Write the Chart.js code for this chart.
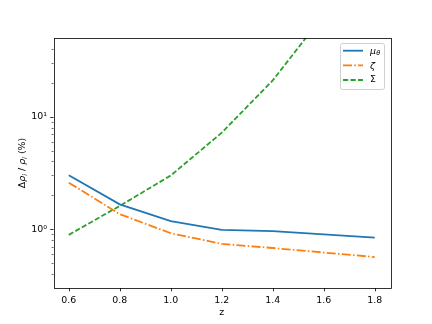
<!DOCTYPE html>
<html>
<head>
<meta charset="utf-8">
<script src="https://cdn.jsdelivr.net/npm/chart.js@4"></script>
<style>
  html, body { margin: 0; padding: 0; background: #fff; }
  #wrap { width: 432px; height: 324px; }
</style>
</head>
<body>
<div id="wrap"><canvas id="chart" width="432" height="324"></canvas></div>
<script>
const zValues = [0.6, 0.8, 1.0, 1.2, 1.4, 1.6, 1.8];
const muTheta = [3.02, 1.66, 1.18, 0.985, 0.96, 0.90, 0.84];
const zeta = [2.59, 1.36, 0.92, 0.74, 0.68, 0.62, 0.565];
const sigma = [0.89, 1.61, 3.0, 7.2, 21, 80, 300];
const xTicks = [0.6, 0.8, 1.0, 1.2, 1.4, 1.6, 1.8];
const yMajor = [1, 10];
const yMinor = [0.4, 0.5, 0.6, 0.7, 0.8, 0.9, 2, 3, 4, 5, 6, 7, 8, 9, 20, 30, 40];

const FONT = "DejaVu Sans";
const FS = 9.4;

function pts(vals) {
  return zValues.map((z, i) => ({ x: z, y: vals[i] }));
}

// ticks, frame, legend and y label drawn by hand (matplotlib look)
const mplDecor = {
  id: 'mplDecor',
  afterDraw(chart) {
    const c = chart.ctx;
    const a = chart.chartArea;
    const xs = chart.scales.x, ys = chart.scales.y;
    c.save();
    c.strokeStyle = '#000';
    c.lineWidth = 0.8;
    c.beginPath();
    xTicks.forEach(v => {
      const px = Math.round(xs.getPixelForValue(v)) + 0.5;
      c.moveTo(px, a.bottom); c.lineTo(px, a.bottom + 3.3);
    });
    yMajor.forEach(v => {
      const py = Math.round(ys.getPixelForValue(v)) + 0.5;
      c.moveTo(a.left, py); c.lineTo(a.left - 3.3, py);
    });
    c.stroke();
    c.lineWidth = 0.6;
    c.beginPath();
    yMinor.forEach(v => {
      const py = Math.round(ys.getPixelForValue(v)) + 0.5;
      c.moveTo(a.left, py); c.lineTo(a.left - 1.9, py);
    });
    c.stroke();
    c.lineWidth = 0.8;
    c.strokeRect(Math.round(a.left) + 0.5, Math.round(a.top) + 0.5,
      Math.round(a.right - a.left), Math.round(a.bottom - a.top));

    // legend
    const bx = 340.5, by = 43.5, bw = 44, bh = 46;
    c.fillStyle = 'rgba(255,255,255,0.8)';
    c.strokeStyle = '#d0d0d0';
    c.lineWidth = 1;
    c.beginPath();
    c.roundRect(bx, by, bw, bh, 2);
    c.fill(); c.stroke();
    const rows = [50.7, 65.3, 80];
    chart.data.datasets.forEach((ds, i) => {
      c.strokeStyle = ds.borderColor;
      c.lineWidth = ds.borderWidth;
      c.setLineDash(ds.borderDash || []);
      c.beginPath();
      c.moveTo(343, rows[i]); c.lineTo(363, rows[i]);
      c.stroke();
      c.setLineDash([]);
    });
    c.fillStyle = '#000';
    c.textBaseline = 'middle';
    c.textAlign = 'left';
    c.font = 'italic ' + FS + 'px ' + FONT;
    c.fillText('μ', 370, rows[0] + 1);
    c.font = 'italic 6.6px ' + FONT;
    c.fillText('θ', 376.3, rows[0] + 3);
    c.font = 'italic ' + FS + 'px ' + FONT;
    c.fillText('ζ', 370, rows[1] + 1);
    c.font = FS + 'px ' + FONT;
    c.fillText('Σ', 370, rows[2]);

    // y axis label
    c.translate(22.5, 163);
    c.rotate(-Math.PI / 2);
    const parts = [
      ['Δ', FS, '', 0], ['ρ', FS, 'italic ', 0], ['i', 6.6, 'italic ', 2.5],
      [' / ', FS, '', 0], ['ρ', FS, 'italic ', 0], ['i', 6.6, 'italic ', 2.5],
      [' (%)', FS, '', 0]
    ];
    let total = 0;
    parts.forEach(p => { c.font = p[2] + p[1] + 'px ' + FONT; total += c.measureText(p[0]).width; });
    let x = -total / 2;
    c.textAlign = 'left';
    parts.forEach(p => {
      c.font = p[2] + p[1] + 'px ' + FONT;
      c.fillText(p[0], x, p[3]);
      x += c.measureText(p[0]).width;
    });
    c.restore();
  }
};

new Chart(document.getElementById('chart').getContext('2d'), {
  type: 'line',
  data: {
    datasets: [
      { label: 'μθ', data: pts(muTheta), borderColor: '#1f77b4', borderWidth: 1.8 },
      { label: 'ζ', data: pts(zeta), borderColor: '#ff7f0e', borderWidth: 1.8, borderDash: [9, 2.3, 1.5, 2.3] },
      { label: 'Σ', data: pts(sigma), borderColor: '#2ca02c', borderWidth: 1.8, borderDash: [5.2, 2.3] }
    ]
  },
  options: {
    responsive: false,
    animation: false,
    devicePixelRatio: 1,
    elements: { point: { radius: 0 }, line: { tension: 0, fill: false } },
    layout: { padding: { top: 38, right: 42, left: 0, bottom: 0 } },
    plugins: { legend: { display: false }, tooltip: { enabled: false } },
    scales: {
      x: {
        type: 'linear',
        min: 0.54, max: 1.86,
        afterBuildTicks: s => { s.ticks = xTicks.map(v => ({ value: v })); },
        afterFit: s => { s.height = 36; },
        grid: { display: true, drawOnChartArea: false, tickLength: 3.5, tickColor: 'rgba(0,0,0,0)' },
        border: { display: false },
        ticks: {
          autoSkip: false, maxRotation: 0, padding: 3.5, color: '#000',
          font: { family: FONT, size: FS },
          callback: v => Number(v).toFixed(1)
        },
        title: { display: true, text: 'z', color: '#000', font: { family: FONT, size: FS }, padding: { top: 0, bottom: 6 } }
      },
      y: {
        type: 'logarithmic',
        min: 0.307, max: 50,
        afterBuildTicks: s => { s.ticks = yMajor.map(v => ({ value: v })); },
        afterFit: s => { s.width = 53.5; },
        grid: { display: true, drawOnChartArea: false, tickLength: 3.5, tickColor: 'rgba(0,0,0,0)' },
        border: { display: false },
        ticks: {
          autoSkip: false, padding: 3, color: '#000',
          font: { family: FONT, size: FS },
          callback: v => v === 1 ? '10⁰' : (v === 10 ? '10¹' : '')
        }
      }
    }
  },
  plugins: [mplDecor]
});
</script>
</body>
</html>
